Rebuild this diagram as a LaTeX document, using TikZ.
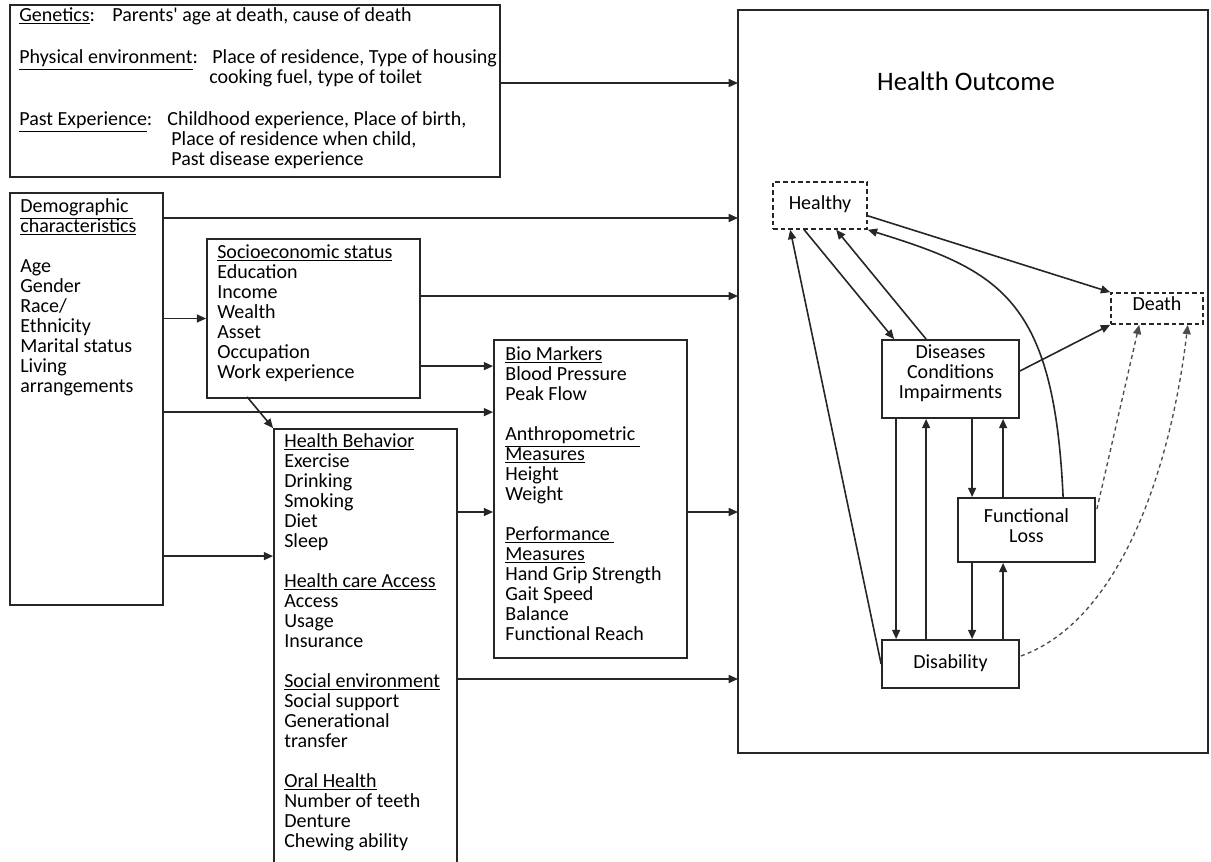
\documentclass[tikz,border=0pt]{standalone}
\usepackage{fontspec}
\setmainfont{Carlito}[Ligatures=TeXOff]
\usetikzlibrary{arrows.meta,calc,positioning,fit}
\tikzset{
  panel/.style    = {draw=black!85, line width=1.35pt, inner sep=0pt},
  dpanel/.style   = {panel, line width=1.2pt, dash pattern=on 3.5pt off 2.2pt},
  body/.style     = {inner sep=0pt, align=left, font=\fontsize{15}{15}\selectfont,
                     execute at begin node=\strut},
  cbody/.style    = {body, align=center},
  headline/.style = {inner sep=0pt, font=\fontsize{20}{24}\selectfont},
  link/.style     = {-{Triangle[length=7pt,width=6pt]}, line width=1.2pt, draw=black!85},
  dlink/.style    = {link, line width=1pt, dash pattern=on 3pt off 2.5pt, draw=black!70},
}

\begin{document}
\begin{tikzpicture}[x=0.75pt,y=-0.75pt]
  \useasboundingbox (0,0) rectangle (1211,861);

  % ---- determinants -------------------------------------------------------
  \node[panel, fit={(10,5) (500,177)}] (gen) {};
  \node[body, below right=2.6pt and 7.5pt of gen.north west] (gentxt)
    {\makebox[69.75pt][l]{\underline{Genetics}:}Parents' age at death, cause of death\\[16.5pt]
     \makebox[144.75pt][l]{\underline{Physical environment}:}Place of residence, Type of housing\\
     \hspace*{142.5pt}cooking fuel, type of toilet\\[16.5pt]
     \makebox[111pt][l]{\underline{Past Experience}:}Childhood experience, Place of birth,\\
     \hspace*{114pt}Place of residence when child,\\
     \hspace*{114pt}Past disease experience};

  \node[panel, fit={(10,193) (163,605)}] (demo) {};
  \node[body, below right=4.8pt and 8.2pt of demo.north west] (demotxt)
    {\underline{Demographic\ }\\\underline{characteristics}\\[15pt]
     Age\\Gender\\Race/\\Ethnicity\\Marital status\\Living\\arrangements};

  \node[panel, fit={(207,239) (420,398)}] (ses) {};
  \node[body, below right=4.8pt and 8.2pt of ses.north west] (sestxt)
    {\underline{Socioeconomic status}\\Education\\Income\\Wealth\\Asset\\Occupation\\Work experience};

  \node[panel, fit={(494,340) (687,658)}] (bio) {};
  \node[body, below right=5.6pt and 9pt of bio.north west] (biotxt)
    {\underline{Bio Markers}\\Blood Pressure\\Peak Flow\\[15pt]
     \underline{Anthropometric\ }\\\underline{Measures}\\Height\\Weight\\[15pt]
     \underline{Performance\ }\\\underline{Measures}\\Hand Grip Strength\\Gait Speed\\Balance\\Functional Reach};

  \node[panel, fit={(274,429) (457,885)}] (hb) {};
  \node[body, below right=4.1pt and 8.2pt of hb.north west] (hbtxt)
    {\underline{Health Behavior}\\Exercise\\Drinking\\Smoking\\Diet\\Sleep\\[15pt]
     \underline{Health care Access}\\Access\\Usage\\Insurance\\[15pt]
     \underline{Social environment}\\Social support\\Generational\\transfer\\[15pt]
     \underline{Oral Health}\\Number of teeth\\Denture\\Chewing ability};

  % ---- health outcome -----------------------------------------------------
  \node[panel, fit={(738,10) (1208,753)}] (outcome) {};
  \node[headline] (ttl) at (966,81) {Health Outcome};

  \node[dpanel, fit={(773,182) (867,229)}] (healthy) {};
  \node[body, below=10.5pt of healthy.north] (healthytxt) {Healthy};
  \node[dpanel, fit={(1111,293) (1203,324)}] (death) {};
  \node[body, below=3pt of death.north] (deathtxt) {Death};
  \node[panel, fit={(882,340) (1019,418)}] (dci) {};
  \node[cbody, below=3.8pt of dci.north] (dcitxt) {Diseases\\Conditions\\Impairments};
  \node[panel, fit={(958,498) (1095,562)}] (floss) {};
  \node[cbody, below=8.3pt of floss.north] (flosstxt) {Functional\\Loss};
  \node[panel, fit={(882,640) (1019,688)}] (disab) {};
  \node[body, below=11pt of disab.north] (disabtxt) {Disability};

  % ---- entry points ---------------------------------------------------------
  \coordinate (in1) at (738,83);
  \coordinate (in2) at (738,218);
  \coordinate (in3) at (738,296);
  \coordinate (in4) at (738,512);
  \coordinate (in5) at (738,679);
  \path (bio.north west) ++(0,27) coordinate (bio1);
  \path (bio.north west) ++(0,73) coordinate (bio2);
  \path (hb.north west) ++(0,128) coordinate (hb1);
  \path (ses.south west) ++(41,-2) coordinate (s1);

  \draw[link] (gen.east |- in1) -- (in1);
  \draw[link] (demo.east |- in2) -- (in2);
  \draw[link] (ses.east |- in3) -- (in3);
  \draw[link] (bio.east |- in4) -- (in4);
  \draw[link] (hb.east |- in5) -- (in5);
  \draw[link] (demo.east |- ses.west) -- (ses.west);
  \draw[link] (ses.east |- bio1) -- (bio1);
  \draw[link] (demo.east |- bio2) -- (bio2);
  \draw[link] (hb.east |- in4) -- (bio.west |- in4);
  \draw[link] (demo.east |- hb1) -- (hb1);
  \draw[link] (s1) -- (hb.north west);

  % ---- transitions ----------------------------------------------------------
  \path (healthy.south east) ++(0,-14) coordinate (h1);
  \path (healthy.south west) ++(32,0) coordinate (h2);
  \path (healthy.south west) ++(64,0) coordinate (h3);
  \path (healthy.south west) ++(18,0) coordinate (h4);
  \path (dci.north west) ++(13,0) coordinate (c1);
  \path (dci.north west) ++(45,0) coordinate (c2);
  \path (dci.east) ++(0,-8) coordinate (c3);
  \path (floss.north west) ++(106,0) coordinate (f0);

  \draw[link] (h1) -- (death.north west);
  \draw[link] (h2) -- (c1);
  \draw[link] (c2) -- (h3);
  \draw[link] (disab.west) -- (h4);
  \draw[link] (f0) .. controls +(-9,-198) and +(133,41) .. (healthy.south east);
  \draw[link] (c3) -- (death.south west);

  \path (dci.south west) ++(15,0) coordinate (v1);
  \path (disab.north west) ++(45,0) coordinate (v2);
  \path (dci.south west) ++(91,0) coordinate (v3);
  \path (floss.north west) ++(46,0) coordinate (v4);
  \path (floss.south west) ++(15,0) coordinate (v5);
  \path (disab.north west) ++(122,0) coordinate (v6);
  \draw[link] (v1) -- (v1 |- disab.north);
  \draw[link] (v2) -- (v2 |- dci.south);
  \draw[link] (v3) -- (v3 |- floss.north);
  \draw[link] (v4) -- (v4 |- dci.south);
  \draw[link] (v5) -- (v5 |- disab.north);
  \draw[link] (v6) -- (v6 |- floss.south);

  % dashed paths to death
  \path (floss.north east) ++(1,12) coordinate (f1);
  \path (death.south west) ++(29,0) coordinate (e1);
  \path (disab.east) ++(1,-8) coordinate (g1);
  \path (death.south east) ++(-16,0) coordinate (e2);
  \draw[dlink] (f1) -- (e1);
  \draw[dlink] (g1) .. controls +(100,-36) and +(-17,143) .. (e2);
\end{tikzpicture}
\end{document}
